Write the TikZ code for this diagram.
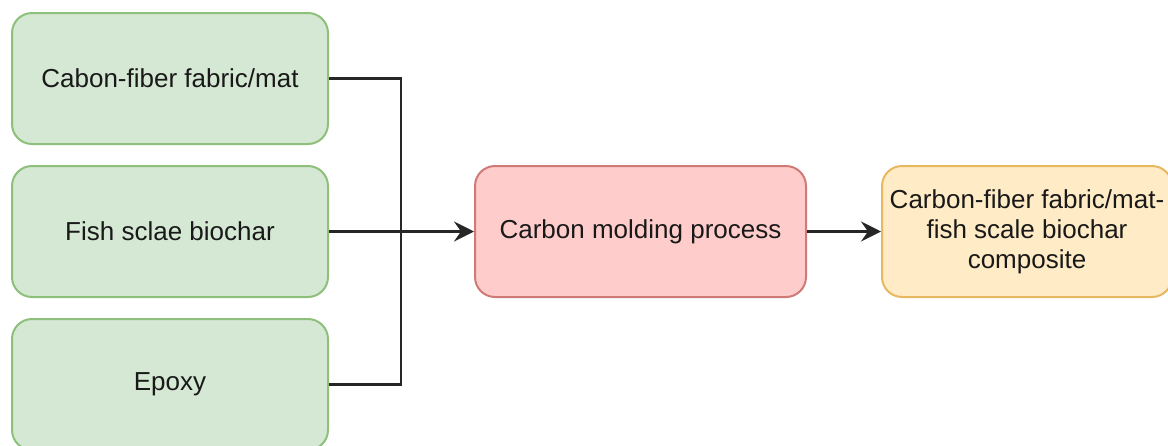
\documentclass[tikz,border=0pt]{standalone}
\usepackage{fontspec}
\setmainfont{Liberation Sans}
\usetikzlibrary{arrows.meta}
\definecolor{gfill}{HTML}{D5E8D4}
\definecolor{gdraw}{HTML}{8DC07A}
\definecolor{rfill}{HTML}{FECDCB}
\definecolor{rdraw}{HTML}{D07A78}
\definecolor{ofill}{HTML}{FFEBC6}
\definecolor{odraw}{HTML}{E8B860}
\tikzset{
  box/.style={rounded corners=20pt, line width=2pt, minimum height=131pt, align=center, inner sep=0pt, font=\fontsize{26}{30}\selectfont, text=black!90},
  gbox/.style={box, fill=gfill, draw=gdraw, minimum width=316pt},
  conn/.style={line width=2.4pt, draw=black!85},
  arr/.style={conn, -{Stealth[length=20pt,width=20pt,inset=7pt]}}
}
\begin{document}
\begin{tikzpicture}[x=1pt,y=-1pt]
\useasboundingbox (0,0) rectangle (1168,445);
\node[gbox] (b1) at (170,78.5) {Cabon-fiber fabric/mat};
\node[gbox] (b2) at (170,231.5) {Fish sclae biochar};
\node[gbox] (b3) at (170,384.5) {Epoxy};
\node[box, fill=rfill, draw=rdraw, minimum width=331pt] (p) at (640.5,231.5) {Carbon molding process};
\node[box, fill=ofill, draw=odraw, minimum width=290pt] (o) at (1027,231.5) {Carbon-fiber fabric/mat-\\fish scale biochar\\composite};
\coordinate (j) at (401,231.5);
\draw[conn] (b1.east) -| (j);
\draw[conn] (b3.east) -| (j);
\draw[arr] (b2.east) -- (p.west);
\draw[arr] (p.east) -- (o.west);
\end{tikzpicture}
\end{document}
